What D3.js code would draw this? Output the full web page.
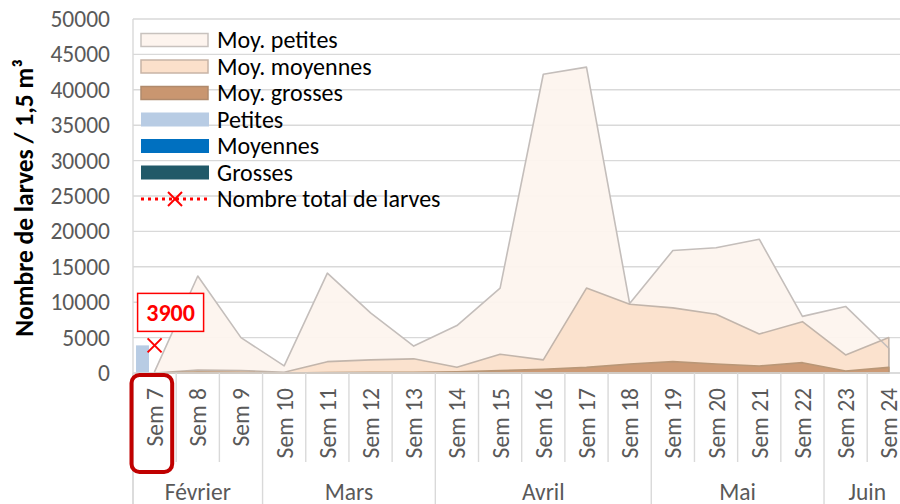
<!DOCTYPE html>
<html><head><meta charset="utf-8">
<script src="https://cdnjs.cloudflare.com/ajax/libs/d3/7.8.5/d3.min.js"></script>
<style>
body{margin:0;background:#fff;overflow:hidden}
text{font-family:Carlito, Lato, sans-serif}
</style>
</head><body>
<svg id="c" width="900" height="504"></svg>
<script>
// ---- data ----
const weeks = ["Sem 7","Sem 8","Sem 9","Sem 10","Sem 11","Sem 12","Sem 13","Sem 14","Sem 15",
  "Sem 16","Sem 17","Sem 18","Sem 19","Sem 20","Sem 21","Sem 22","Sem 23","Sem 24"];
const monthNames = ["Février","Mars","Avril","Mai","Juin"];
const monthSpans = [3,4,5,4,2];
const moyPetites  = [200,13700,5000,1000,14100,8500,3800,6700,12000,42200,43200,9800,17300,17700,18900,8000,9400,3500];
const moyMoyennes = [0,400,350,100,1600,1850,2000,800,2650,1850,12000,9700,9200,8300,5500,7250,2550,5000];
const moyGrosses  = [0,150,100,0,50,100,100,180,330,520,800,1270,1600,1270,990,1460,280,800];
const petites     = [3900,0,0,0,0,0,0,0,0,0,0,0,0,0,0,0,0,0];
const moyennes    = [0,0,0,0,0,0,0,0,0,0,0,0,0,0,0,0,0,0];
const grosses     = [0,0,0,0,0,0,0,0,0,0,0,0,0,0,0,0,0,0];
const totalLarves = [3900,null,null,null,null,null,null,null,null,null,null,null,null,null,null,null,null,null];
const yTicks = [0,5000,10000,15000,20000,25000,30000,35000,40000,45000,50000];
const yTitle = "Nombre de larves / 1,5 m³";
const legendLabels = ["Moy. petites","Moy. moyennes","Moy. grosses","Petites","Moyennes","Grosses","Nombre total de larves"];

// ---- layout ----
const L = 133, R = 910.4, T = 19, B = 373;
const svg = d3.select("#c");
const x = d3.scaleBand().domain(weeks).range([L, R]).padding(0);
const bw = x.bandwidth();
const y = d3.scaleLinear().domain([0, 50000]).range([B, T]);
const cx = w => x(w) + bw / 2;

const grid = "#d9d9d9", txt = "#595959";

// gridlines
svg.append("g").selectAll("line").data(yTicks).join("line")
  .attr("x1", L).attr("x2", R).attr("y1", d => y(d)).attr("y2", d => y(d))
  .attr("stroke", grid).attr("stroke-width", 1.4);
// left border
svg.append("line").attr("x1", L).attr("x2", L).attr("y1", T).attr("y2", 504)
  .attr("stroke", grid).attr("stroke-width", 1.4);

// y axis labels
const yAxis = d3.axisLeft(y).tickValues(yTicks).tickSize(0).tickPadding(0).tickFormat(d3.format("d"));
const ga = svg.append("g").attr("transform", `translate(${110},0)`).call(yAxis);
ga.select(".domain").remove();
ga.selectAll("text").attr("fill", txt).style("font-size", "23.5px").style("font-family", "Carlito, Lato, sans-serif");

// y title
svg.append("text").attr("transform", `translate(33,${(T + B) / 2 + 2}) rotate(-90)`)
  .attr("text-anchor", "middle").attr("font-weight", "bold").attr("font-size", 25.5)
  .attr("fill", "#000").text(yTitle);

// areas
const series = [
  {v: moyPetites, fill: "#fdf4ee", stroke: "#c4bebb"},
  {v: moyMoyennes, fill: "#fbe0cb", stroke: "#c2b5ab"},
  {v: moyGrosses, fill: "#c99670", stroke: "#b99777"}
];
const area = d3.area().x((d, i) => cx(weeks[i])).y0(y(0)).y1(d => y(d));
const ag = svg.append("g");
series.forEach(s => ag.append("path").attr("d", area(s.v)).attr("fill", s.fill).attr("fill-opacity", 0.95));
series.forEach(s => ag.append("path").attr("d", area(s.v)).attr("fill", "none")
  .attr("stroke", s.stroke).attr("stroke-width", 1.6).attr("stroke-linejoin", "round"));

// bars (clustered)
const barSeries = [{k: "Petites", v: petites, c: "#b8cce4"}, {k: "Moyennes", v: moyennes, c: "#0070c0"}, {k: "Grosses", v: grosses, c: "#215968"}];
const xs = d3.scaleBand().domain(barSeries.map(d => d.k)).range([bw * 0.07, bw * 0.97]).padding(0);
barSeries.forEach(s => {
  svg.append("g").selectAll("rect").data(s.v.map((v, i) => ({v, w: weeks[i]})).filter(d => d.v > 0)).join("rect")
    .attr("x", d => x(d.w) + xs(s.k)).attr("width", xs.bandwidth())
    .attr("y", d => y(d.v)).attr("height", d => y(0) - y(d.v)).attr("fill", s.c);
});

// x axis line
svg.append("line").attr("x1", L).attr("x2", R).attr("y1", B).attr("y2", B).attr("stroke", grid).attr("stroke-width", 1.4);

// total line (dotted) + markers
const tl = d3.line().defined(d => d != null).x((d, i) => cx(weeks[i])).y(d => y(d));
svg.append("path").attr("d", tl(totalLarves)).attr("fill", "none").attr("stroke", "#ff0000")
  .attr("stroke-width", 3).attr("stroke-dasharray", "3,4");
const pts = totalLarves.map((v, i) => ({v, w: weeks[i]})).filter(d => d.v != null);
const xMark = (g, px, py, r) => {
  g.append("line").attr("x1", px - r).attr("y1", py - r).attr("x2", px + r).attr("y2", py + r).attr("stroke", "#ff0000").attr("stroke-width", 2);
  g.append("line").attr("x1", px - r).attr("y1", py + r).attr("x2", px + r).attr("y2", py - r).attr("stroke", "#ff0000").attr("stroke-width", 2);
};
pts.forEach(p => {
  const px = cx(p.w), py = y(p.v);
  xMark(svg, px, py, 7);
  const g = svg.append("g");
  g.append("rect").attr("x", px - 17).attr("y", py - 52).attr("width", 66).attr("height", 38)
    .attr("fill", "#fff").attr("stroke", "#ff0000").attr("stroke-width", 1.5);
  g.append("text").attr("x", px + 16).attr("y", py - 24.5).attr("text-anchor", "middle")
    .attr("font-weight", "bold").attr("font-size", 24).attr("fill", "#ff0000").text(d3.format("d")(p.v));
});

// x ticks (separators)
const sepIdx = d3.range(weeks.length + 1);
const monthStarts = [0]; monthSpans.forEach((s, i) => monthStarts.push(monthStarts[i] + s));
svg.append("g").selectAll("line").data(sepIdx).join("line")
  .attr("x1", i => L + i * bw).attr("x2", i => L + i * bw)
  .attr("y1", B).attr("y2", i => monthStarts.includes(i) ? 504 : 462)
  .attr("stroke", grid).attr("stroke-width", 1.4);

// week labels
svg.append("g").selectAll("text").data(weeks).join("text")
  .attr("transform", d => `translate(${cx(d)},388) rotate(-90)`)
  .attr("text-anchor", "end").attr("dy", "0.36em").attr("font-size", 23.5).attr("fill", txt).text(d => d);

// month labels
svg.append("g").selectAll("text").data(monthNames).join("text")
  .attr("x", (d, i) => L + (monthStarts[i] + monthSpans[i] / 2) * bw).attr("y", 500)
  .attr("text-anchor", "middle").attr("font-size", 23.5).attr("fill", txt).text(d => d);

// highlight box around first week label
svg.append("rect").attr("x", x(weeks[0]) - 1.5).attr("y", 375).attr("width", bw - 2.5).attr("height", 97)
  .attr("rx", 8).attr("fill", "none").attr("stroke", "#c00000").attr("stroke-width", 4);

// legend
const lg = svg.append("g");
const lx = 141, lw = 68, ly0 = 40, ldy = 26.5;
const swatches = [
  {t: "area", fill: "#fdf4ee", stroke: "#c8c2be"},
  {t: "area", fill: "#fbe0cb", stroke: "#c8b4a6"},
  {t: "area", fill: "#c99670", stroke: "#b08a6c"},
  {t: "bar", fill: "#b8cce4"},
  {t: "bar", fill: "#0070c0"},
  {t: "bar", fill: "#215968"},
  {t: "line"}
];
legendLabels.forEach((lab, i) => {
  const cy = ly0 + i * ldy, s = swatches[i];
  if (s.t === "area") {
    lg.append("rect").attr("x", lx).attr("y", cy - 6.5).attr("width", lw - 1).attr("height", 13)
      .attr("fill", s.fill).attr("stroke", s.stroke).attr("stroke-width", 1.5);
  } else if (s.t === "bar") {
    lg.append("rect").attr("x", lx).attr("y", cy - 7).attr("width", lw).attr("height", 14).attr("fill", s.fill);
  } else {
    lg.append("line").attr("x1", lx).attr("x2", lx + lw).attr("y1", cy).attr("y2", cy)
      .attr("stroke", "#ff0000").attr("stroke-width", 3).attr("stroke-dasharray", "3,4");
    xMark(lg, lx + lw / 2, cy, 7);
  }
  lg.append("text").attr("x", 217).attr("y", cy).attr("dy", "0.35em").attr("font-size", 24).attr("fill", "#000").text(lab);
});
</script>
</body></html>
